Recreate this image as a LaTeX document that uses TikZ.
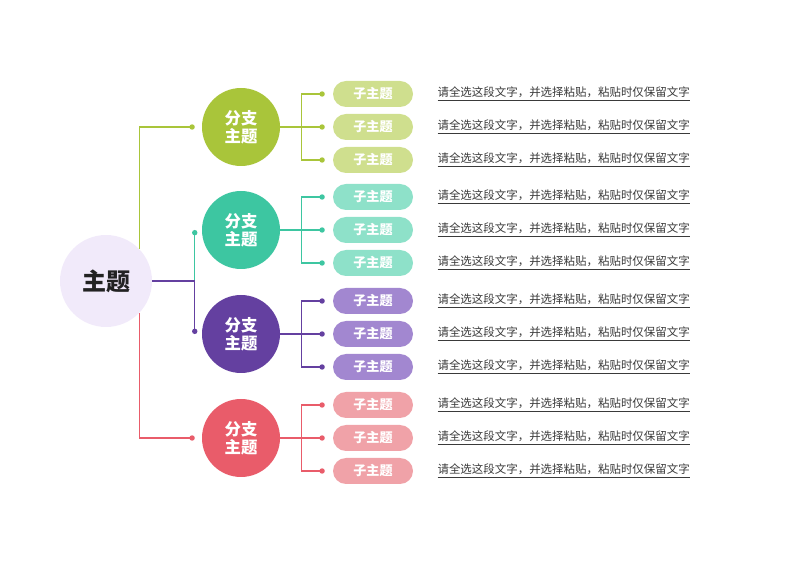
\documentclass[tikz,border=0pt]{standalone}
\usepackage{fontspec}
\setmainfont{Noto Sans CJK SC}
\usetikzlibrary{positioning,arrows.meta}

\definecolor{rootbg}{HTML}{F1EAFA}
\definecolor{rootgray}{HTML}{222222}
\definecolor{notegray}{HTML}{3A3A3A}
\definecolor{gdark}{HTML}{A9C53A}
\definecolor{glight}{HTML}{CFDF8E}
\definecolor{tdark}{HTML}{3DC6A1}
\definecolor{tlight}{HTML}{8EE1C9}
\definecolor{pdark}{HTML}{6440A0}
\definecolor{plight}{HTML}{A287D0}
\definecolor{rdark}{HTML}{E95C6A}
\definecolor{rlight}{HTML}{F0A2A8}

\newcommand{\notetext}{\underline{请全选这段文字，并选择粘贴，粘贴时仅保留文字}}

\begin{document}
\begin{tikzpicture}[x=0.75pt,y=-0.75pt,node distance=24.75pt and 99pt,on grid,
  branch/.style={circle,minimum size=58.5pt,inner sep=0pt,text=white,align=center,font=\bfseries\fontsize{12.3}{13.8}\selectfont},
  pill/.style={rounded corners=9.75pt,minimum width=60pt,minimum height=19.5pt,inner sep=0pt,text=white,font=\bfseries\fontsize{9.8}{10}\selectfont},
  note/.style={anchor=west,inner sep=0pt,text=notegray,font=\fontsize{8.6}{9}\selectfont},
  link/.style={line width=0.9pt,-{Circle[length=4pt]}}]
	\useasboundingbox (0,0) rectangle (800,566);

	\node[circle,fill=rootbg,minimum size=69pt,inner sep=0pt,text=rootgray,font=\bfseries\fontsize{18}{20}\selectfont] (root) at (106,281) {主题};

	\node[branch,fill=gdark] (g) at (241,127) {分支\\主题};
	\node[branch,fill=tdark] (t) at (241,230) {分支\\主题};
	\node[branch,fill=pdark] (p) at (241,334) {分支\\主题};
	\node[branch,fill=rdark] (r) at (241,438) {分支\\主题};

	\node[pill,fill=glight] (g_2) [right=of g] {子主题};
	\node[pill,fill=glight] (g_1) [above=of g_2] {子主题};
	\node[pill,fill=glight] (g_3) [below=of g_2] {子主题};
	\node[pill,fill=tlight] (t_2) [right=of t] {子主题};
	\node[pill,fill=tlight] (t_1) [above=of t_2] {子主题};
	\node[pill,fill=tlight] (t_3) [below=of t_2] {子主题};
	\node[pill,fill=plight] (p_2) [right=of p] {子主题};
	\node[pill,fill=plight] (p_1) [above=of p_2] {子主题};
	\node[pill,fill=plight] (p_3) [below=of p_2] {子主题};
	\node[pill,fill=rlight] (r_2) [right=of r] {子主题};
	\node[pill,fill=rlight] (r_1) [above=of r_2] {子主题};
	\node[pill,fill=rlight] (r_3) [below=of r_2] {子主题};

	\node[note] (g_1n) at ([xshift=18pt]g_1.east) {\notetext};
	\node[note] (g_2n) at ([xshift=18pt]g_2.east) {\notetext};
	\node[note] (g_3n) at ([xshift=18pt]g_3.east) {\notetext};
	\node[note] (t_1n) at ([xshift=18pt]t_1.east) {\notetext};
	\node[note] (t_2n) at ([xshift=18pt]t_2.east) {\notetext};
	\node[note] (t_3n) at ([xshift=18pt]t_3.east) {\notetext};
	\node[note] (p_1n) at ([xshift=18pt]p_1.east) {\notetext};
	\node[note] (p_2n) at ([xshift=18pt]p_2.east) {\notetext};
	\node[note] (p_3n) at ([xshift=18pt]p_3.east) {\notetext};
	\node[note] (r_1n) at ([xshift=18pt]r_1.east) {\notetext};
	\node[note] (r_2n) at ([xshift=18pt]r_2.east) {\notetext};
	\node[note] (r_3n) at ([xshift=18pt]r_3.east) {\notetext};

	% root to branches
	\coordinate (g_in) at ([xshift=-5.25pt]g.west);
	\coordinate (t_in) at ([xshift=-5.25pt]t.west);
	\coordinate (p_in) at ([xshift=-5.25pt]p.west);
	\coordinate (r_in) at ([xshift=-5.25pt]r.west);
	\draw[link,gdark] (root.44) |- (g_in);
	\draw[link,tdark] (root.east -| t_in) -- (t_in);
	\draw[link,pdark] (root.east) -- (root.east -| p_in) -- (p_in);
	\draw[link,rdark] (root.-44) |- (r_in);

	% branches to sub topics
	\draw[link,gdark] (g.east) -- ++(15.75pt,0) |- ([xshift=-6pt]g_1.west);
	\draw[link,gdark] (g.east) -- ([xshift=-6pt]g_2.west);
	\draw[link,gdark] (g.east) -- ++(15.75pt,0) |- ([xshift=-6pt]g_3.west);
	\draw[link,tdark] (t.east) -- ++(15.75pt,0) |- ([xshift=-6pt]t_1.west);
	\draw[link,tdark] (t.east) -- ([xshift=-6pt]t_2.west);
	\draw[link,tdark] (t.east) -- ++(15.75pt,0) |- ([xshift=-6pt]t_3.west);
	\draw[link,pdark] (p.east) -- ++(15.75pt,0) |- ([xshift=-6pt]p_1.west);
	\draw[link,pdark] (p.east) -- ([xshift=-6pt]p_2.west);
	\draw[link,pdark] (p.east) -- ++(15.75pt,0) |- ([xshift=-6pt]p_3.west);
	\draw[link,rdark] (r.east) -- ++(15.75pt,0) |- ([xshift=-6pt]r_1.west);
	\draw[link,rdark] (r.east) -- ([xshift=-6pt]r_2.west);
	\draw[link,rdark] (r.east) -- ++(15.75pt,0) |- ([xshift=-6pt]r_3.west);
\end{tikzpicture}
\end{document}
